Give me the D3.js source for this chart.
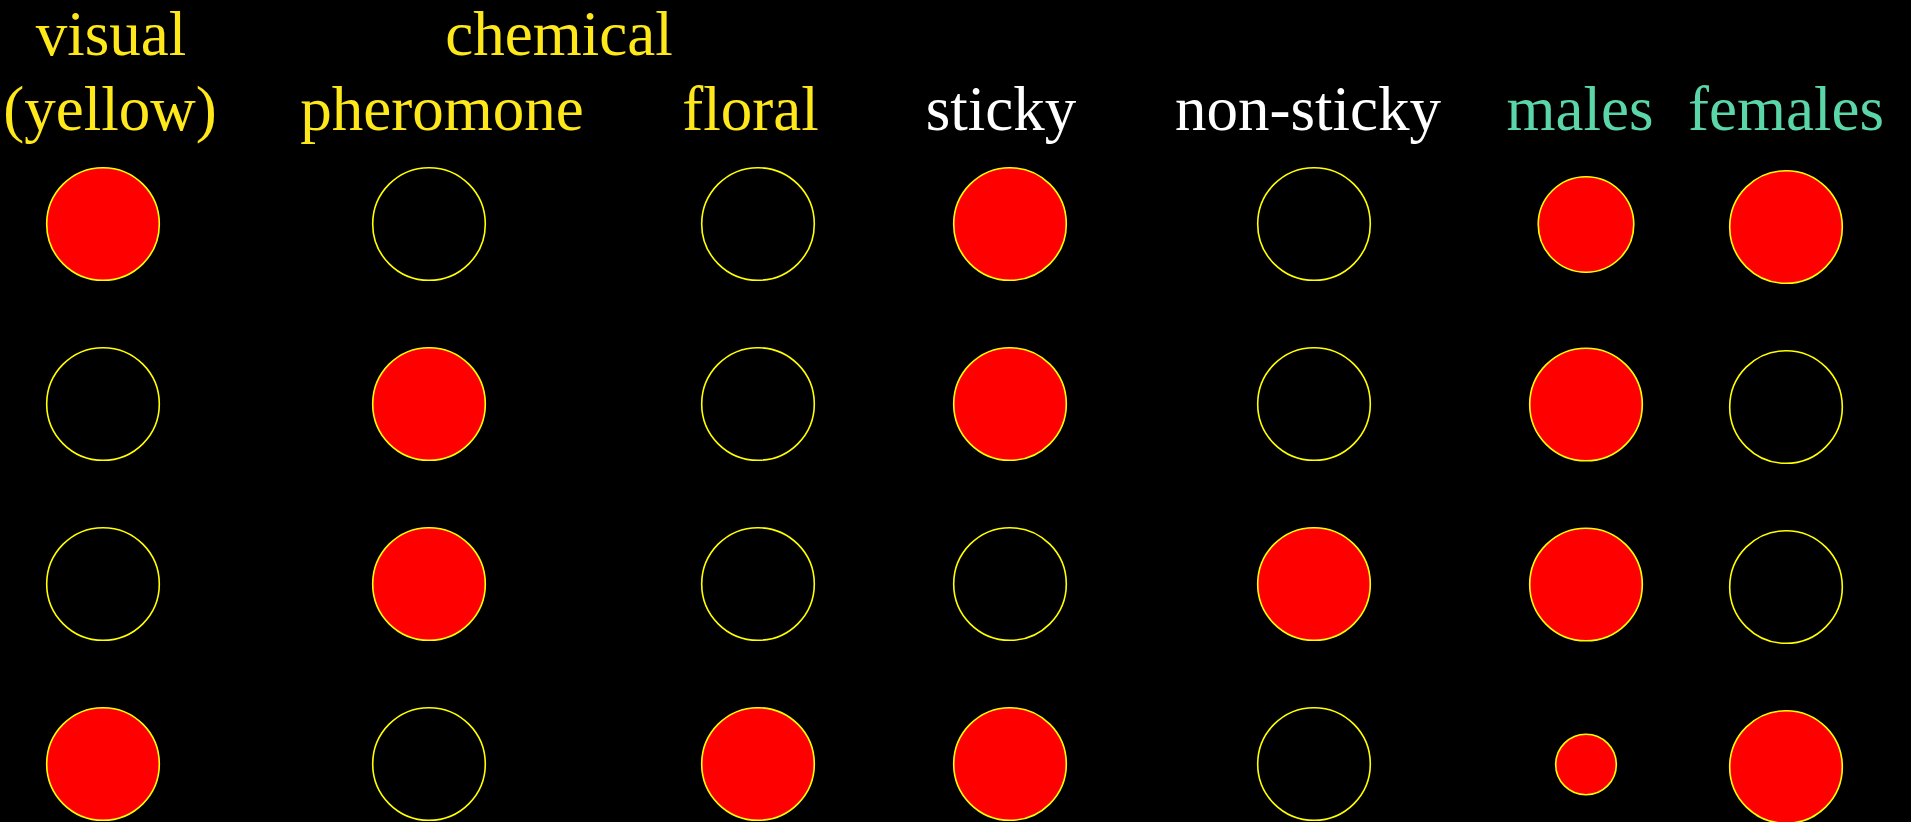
<!DOCTYPE html>
<html>
<head>
<meta charset="utf-8">
<script src="https://cdn.jsdelivr.net/npm/d3@7"></script>
<style>
  html, body { margin: 0; padding: 0; background: #000; }
  svg { display: block; }
</style>
</head>
<body>
<div id="chart"></div>
<script>
// ---- data ----
const columns = ["visual", "pheromone", "floral", "sticky", "non-sticky", "males", "females"];
const rows = ["r1", "r2", "r3", "r4"];
// 0 = open (empty) circle; > 0 = filled red circle, value = relative area
const visualVals     = [1, 0, 0, 1];
const pheromoneVals  = [0, 1, 1, 0];
const floralVals     = [0, 0, 0, 1];
const stickyVals     = [1, 1, 0, 1];
const nonStickyVals  = [0, 0, 1, 0];
const malesVals      = [0.72, 1, 1, 0.29];
const femalesVals    = [1, 0, 0, 1];

const groupLabels = ["visual", "chemical"];
const columnLabels = ["(yellow)", "pheromone", "floral", "sticky", "non-sticky", "males", "females"];
const labelColors = ["yellow", "yellow", "yellow", "white", "white", "teal", "teal"];

const series = [visualVals, pheromoneVals, floralVals, stickyVals, nonStickyVals, malesVals, femalesVals];

// ---- layout ----
const W = 1911, H = 822;
const palette = { yellow: "#ffe81a", white: "#ffffff", teal: "#5ad6a8" };

const svg = d3.select("#chart").append("svg")
  .attr("width", W).attr("height", H)
  .style("background", "#000");

const x = d3.scaleOrdinal().domain(columns).range([103, 429, 758, 1010, 1314, 1586, 1786]);
const yOff = d3.scaleOrdinal().domain(columns).range([0, 0, 0, 0, 0, 0.5, 3]);
const y = d3.scalePoint().domain(rows).range([224, 764]);
const r = d3.scaleSqrt().domain([0, 1]).range([0, 56.3]);

const cells = [];
columns.forEach((c, ci) => {
  series[ci].forEach((v, ri) => cells.push({ col: c, row: rows[ri], v }));
});

svg.append("g").selectAll("circle")
  .data(cells)
  .join("circle")
  .attr("cx", d => x(d.col))
  .attr("cy", d => y(d.row) + yOff(d.col))
  .attr("r", d => d.v > 0 ? r(d.v) : r(1))
  .attr("fill", d => d.v > 0 ? "#ff0000" : "none")
  .attr("stroke", "#ffff00")
  .attr("stroke-width", 1.6);

const font = "'Liberation Serif', 'Times New Roman', serif";

// group header line
const groupX = d3.scaleOrdinal().domain(groupLabels).range([111, 559]);
svg.append("g").selectAll("text")
  .data(groupLabels)
  .join("text")
  .attr("x", d => groupX(d))
  .attr("y", 55)
  .attr("text-anchor", "middle")
  .attr("font-family", font)
  .attr("font-size", 63)
  .attr("fill", palette.yellow)
  .text(d => d);

// column labels
const labelX = d3.scaleOrdinal().domain(columnLabels).range([110, 442, 750.5, 1001, 1308, 1580, 1786]);
svg.append("g").selectAll("text")
  .data(columnLabels)
  .join("text")
  .attr("x", d => labelX(d))
  .attr("y", 130)
  .attr("text-anchor", "middle")
  .attr("font-family", font)
  .attr("font-size", 63)
  .attr("fill", (d, i) => palette[labelColors[i]])
  .text(d => d);
</script>
</body>
</html>
